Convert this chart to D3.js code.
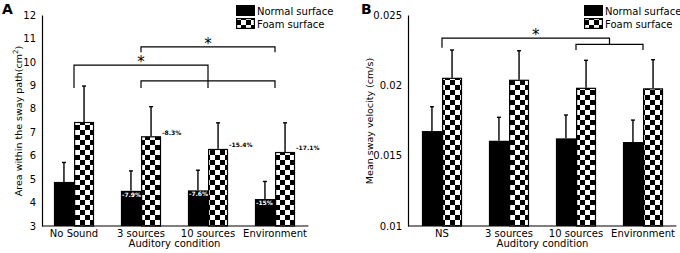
<!DOCTYPE html>
<html>
<head>
<meta charset="utf-8">
<script src="https://cdn.jsdelivr.net/npm/d3@7"></script>
<style>
  body { margin: 0; background: #fff; }
  svg { display: block; font-family: "DejaVu Sans", sans-serif; }
</style>
</head>
<body>
<svg id="chart" width="680" height="253"></svg>
<script>
// panel A: area within the sway path (cm2)
const conditionsA = ['No Sound', '3 sources', '10 sources', 'Environment'];
const areaNormal = [4.88, 4.50, 4.52, 4.15];
const areaNormalSd = [0.83, 0.85, 0.86, 0.75];
const areaFoam = [7.44, 6.83, 6.29, 6.16];
const areaFoamSd = [1.53, 1.26, 1.11, 1.24];
const areaNormalPct = ['', '-7.9%', '-7.6%', '-15%'];
const areaFoamPct = ['', '-8.3%', '-15.4%', '-17.1%'];
const areaTicks = [3, 4, 5, 6, 7, 8, 9, 10, 11, 12];

// panel B: mean sway velocity (cm/s)
const conditionsB = ['NS', '3 sources', '10 sources', 'Environment'];
const velNormal = [0.01675, 0.01606, 0.01623, 0.01597];
const velNormalSd = [0.00173, 0.00167, 0.00166, 0.00156];
const velFoam = [0.02054, 0.02040, 0.01983, 0.01979];
const velFoamSd = [0.00197, 0.00206, 0.00195, 0.00203];
const velTicks = [0.01, 0.015, 0.02, 0.025];

// significance brackets (group index, levels in data units)
const bracketsA = [
  { from: 0, to: 2, top: 9.86, leftEnd: 8.89, rightEnd: 8.89, star: 1 },
  { from: 1, to: 3, top: 10.64, leftEnd: 10.41, rightEnd: 10.41, star: 2 },
  { from: 1, to: 3, top: 9.19, leftEnd: 8.89, rightEnd: 8.89 }
];
const bracketsB = [
  { from: 0, to: 2.5, top: 0.02336, leftEnd: 0.02267, rightEnd: 0.02291, star: 1.4 },
  { from: 2, to: 3, top: 0.02291, leftEnd: 0.02251, rightEnd: 0.02251 }
];

const svg = d3.select('#chart');

const defs = svg.append('defs');
const checker = defs.append('pattern')
  .attr('id', 'checker')
  .attr('patternUnits', 'userSpaceOnUse')
  .attr('width', 10)
  .attr('height', 10);
checker.append('rect').attr('width', 10).attr('height', 10).attr('fill', '#fff');
checker.append('rect').attr('width', 5).attr('height', 5).attr('fill', '#000');
checker.append('rect').attr('x', 5).attr('y', 5).attr('width', 5).attr('height', 5).attr('fill', '#000');

class SwayBars {
  constructor(_config, _data) {
    this.config = _config;
    this.data = _data;
    this.initVis();
  }

  initVis() {
    const vis = this;
    const c = vis.config;

    vis.g = svg.append('g');

    vis.x = d3.scaleBand()
      .domain(vis.data.categories)
      .range(c.xRange)
      .paddingInner(0.4)
      .paddingOuter(0.2);

    vis.y = d3.scaleLinear()
      .domain(c.yDomain)
      .range([226, 15]);

    vis.renderVis();
  }

  center(i) {
    const vis = this;
    return vis.x(vis.data.categories[0]) + vis.x.bandwidth() / 2 + i * vis.x.step();
  }

  renderVis() {
    const vis = this;
    const c = vis.config;
    const d = vis.data;
    const half = vis.x.bandwidth() / 2;

    const rows = d.categories.map((cat, i) => ({
      cat, i,
      normal: d.normal[i], normalSd: d.normalSd[i],
      foam: d.foam[i], foamSd: d.foamSd[i],
      pctN: d.pctNormal ? d.pctNormal[i] : '',
      pctF: d.pctFoam ? d.pctFoam[i] : ''
    }));

    // error bars behind bars
    const err = vis.g.append('g').attr('stroke', '#000').attr('stroke-width', 1.4);
    rows.forEach(r => {
      [[vis.x(r.cat) + half / 2, r.normal, r.normalSd],
       [vis.x(r.cat) + half * 1.5, r.foam, r.foamSd]].forEach(([cx, v, sd]) => {
        err.append('line')
          .attr('x1', cx).attr('x2', cx)
          .attr('y1', vis.y(v)).attr('y2', vis.y(v + sd));
        err.append('line')
          .attr('x1', cx - 2).attr('x2', cx + 2)
          .attr('y1', vis.y(v + sd)).attr('y2', vis.y(v + sd));
      });
    });

    vis.g.selectAll('.bar-normal')
      .data(rows)
      .join('rect')
      .attr('class', 'bar-normal')
      .attr('x', r => vis.x(r.cat))
      .attr('y', r => vis.y(r.normal))
      .attr('width', half)
      .attr('height', r => vis.y(c.yDomain[0]) - vis.y(r.normal))
      .attr('fill', '#000');

    vis.g.selectAll('.bar-foam')
      .data(rows)
      .join('rect')
      .attr('class', 'bar-foam')
      .attr('x', r => vis.x(r.cat) + half + 0.6)
      .attr('y', r => vis.y(r.foam) + 0.6)
      .attr('width', half - 1.2)
      .attr('height', r => vis.y(c.yDomain[0]) - vis.y(r.foam) - 0.6)
      .attr('fill', 'url(#checker)')
      .attr('stroke', '#000')
      .attr('stroke-width', 1.2);

    // percent change labels
    vis.g.selectAll('.pct-n')
      .data(rows.filter(r => r.pctN))
      .join('text')
      .attr('class', 'pct-n')
      .attr('x', r => vis.x(r.cat) + 1)
      .attr('y', r => vis.y(r.normal) + 6)
      .attr('font-size', 6)
      .attr('font-weight', 'bold')
      .attr('fill', '#fff')
      .text(r => r.pctN);

    vis.g.selectAll('.pct-f')
      .data(rows.filter(r => r.pctF))
      .join('text')
      .attr('class', 'pct-f')
      .attr('x', r => vis.x(r.cat) + 2 * half + 1)
      .attr('y', r => vis.y(r.foam) - 1.5)
      .attr('font-size', 6)
      .attr('font-weight', 'bold')
      .attr('fill', '#000')
      .text(r => r.pctF);

    // axes
    const yAxis = d3.axisLeft(vis.y)
      .tickValues(c.yTicks)
      .tickFormat(c.tickFormat)
      .tickSize(0)
      .tickSizeOuter(0)
      .tickPadding(6);

    vis.g.append('g')
      .attr('transform', `translate(${c.axisX},0)`)
      .call(yAxis)
      .call(g => g.select('.domain').attr('stroke-width', 1.2))
      .call(g => g.selectAll('text').attr('font-size', 10).attr('font-family', 'DejaVu Sans').attr('fill', '#000'));

    const xAxis = d3.axisBottom(vis.x).tickSize(0).tickPadding(4);
    vis.g.append('g')
      .attr('transform', `translate(0,${vis.y(c.yDomain[0])})`)
      .call(xAxis)
      .call(g => g.select('.domain').remove())
      .call(g => g.selectAll('text').attr('font-size', 10).attr('font-family', 'DejaVu Sans').attr('fill', '#000'));

    vis.g.append('line')
      .attr('x1', c.axisX).attr('x2', c.xRange[1])
      .attr('y1', vis.y(c.yDomain[0])).attr('y2', vis.y(c.yDomain[0]))
      .attr('stroke', '#000').attr('stroke-width', 1.2);

    vis.g.append('text')
      .attr('x', (c.xRange[0] + c.xRange[1]) / 2)
      .attr('y', 247)
      .attr('text-anchor', 'middle')
      .attr('font-size', 10)
      .text('Auditory condition');

    const yl = vis.g.append('text')
      .attr('transform', `translate(${c.yLabelX},121) rotate(-90)`)
      .attr('text-anchor', 'middle')
      .attr('font-size', 9.5);
    yl.append('tspan').text(c.yLabel);
    if (c.yLabelSup) {
      yl.append('tspan').attr('font-size', 7).attr('dy', -4).text(c.yLabelSup);
      yl.append('tspan').attr('dy', 4).text(')');
    }

    vis.g.append('text')
      .attr('x', c.panelX)
      .attr('y', 14)
      .attr('font-size', 14)
      .attr('font-weight', 'bold')
      .text(c.panel);

    vis.drawBrackets();
    vis.drawLegend();
  }

  drawBrackets() {
    const vis = this;
    const bg = vis.g.append('g');
    vis.config.brackets.forEach(b => {
      const x1 = vis.center(b.from);
      const x2 = vis.center(b.to);
      const yt = vis.y(b.top);
      bg.append('path')
        .attr('d', `M${x1},${vis.y(b.leftEnd)}V${yt}H${x2}V${vis.y(b.rightEnd)}`)
        .attr('fill', 'none')
        .attr('stroke', '#000')
        .attr('stroke-width', 1.2);
      if (b.star !== undefined) {
        bg.append('text')
          .attr('x', vis.center(b.star))
          .attr('y', yt + 2)
          .attr('text-anchor', 'middle')
          .attr('font-size', 15)
          .attr('font-family', 'DejaVu Sans')
          .attr('fill', '#000')
          .text('*');
      }
    });
  }

  drawLegend() {
    const vis = this;
    const lx = vis.config.legendX;
    const lg = vis.g.append('g').attr('transform', `translate(${lx},0)`);
    lg.append('rect').attr('x', 0).attr('y', 5).attr('width', 19).attr('height', 11).attr('fill', '#000');
    lg.append('rect').attr('x', 0.6).attr('y', 18.6).attr('width', 17.8).attr('height', 9.8)
      .attr('fill', 'url(#checker)').attr('stroke', '#000').attr('stroke-width', 1.2);
    lg.append('text').attr('x', 21).attr('y', 15).attr('font-size', 10).text('Normal surface');
    lg.append('text').attr('x', 21).attr('y', 28).attr('font-size', 10).text('Foam surface');
  }
}

new SwayBars({
  panel: 'A', panelX: 2,
  axisX: 42, xRange: [40.5, 308.5],
  yDomain: [3, 12], yTicks: areaTicks, tickFormat: d3.format('d'),
  yLabel: 'Area within the sway path(cm', yLabelSup: '2', yLabelX: 22,
  legendX: 236, brackets: bracketsA
}, {
  categories: conditionsA,
  normal: areaNormal, normalSd: areaNormalSd,
  foam: areaFoam, foamSd: areaFoamSd,
  pctNormal: areaNormalPct, pctFoam: areaFoamPct
});

new SwayBars({
  panel: 'B', panelX: 361,
  axisX: 408, xRange: [408.5, 676.5],
  yDomain: [0.01, 0.025], yTicks: velTicks, tickFormat: d => String(d),
  yLabel: 'Mean sway velocity (cm/s)', yLabelX: 373,
  legendX: 584, brackets: bracketsB
}, {
  categories: conditionsB,
  normal: velNormal, normalSd: velNormalSd,
  foam: velFoam, foamSd: velFoamSd
});
</script>
</body>
</html>
